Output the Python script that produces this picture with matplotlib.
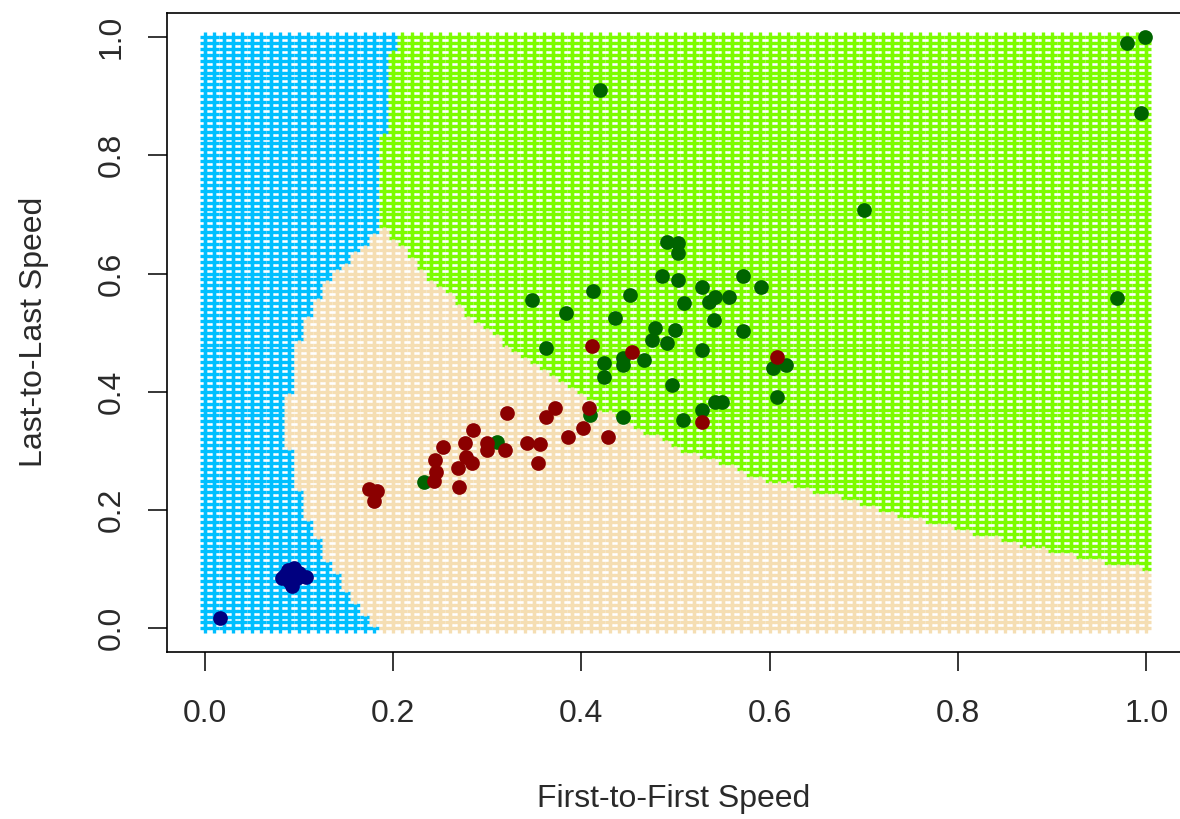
import numpy as np
import matplotlib
matplotlib.use("Agg")
import matplotlib.pyplot as plt

plt.rcParams['font.family'] = ['Liberation Sans', 'DejaVu Sans']

# observed points, one class per colour
green_x = [0.233, 0.310, 0.409, 0.444, 0.363, 0.424, 0.424, 0.444, 0.444, 0.467,
           0.475, 0.478, 0.491, 0.500, 0.496, 0.528, 0.541, 0.572, 0.508, 0.528,
           0.542, 0.549, 0.604, 0.617, 0.608, 0.384, 0.436, 0.348, 0.491, 0.503,
           0.503, 0.486, 0.503, 0.528, 0.572, 0.591, 0.509, 0.536, 0.542, 0.557,
           0.412, 0.452, 0.420, 0.700, 0.969, 0.980, 0.999, 0.994]
green_y = [0.247, 0.315, 0.360, 0.357, 0.474, 0.449, 0.425, 0.457, 0.445, 0.453,
           0.487, 0.508, 0.482, 0.504, 0.411, 0.470, 0.521, 0.503, 0.352, 0.369,
           0.382, 0.382, 0.440, 0.445, 0.391, 0.533, 0.525, 0.555, 0.653, 0.651,
           0.635, 0.596, 0.589, 0.577, 0.596, 0.577, 0.550, 0.552, 0.560, 0.560,
           0.570, 0.563, 0.910, 0.707, 0.558, 0.990, 1.000, 0.871]

red_x = [0.175, 0.183, 0.180, 0.244, 0.245, 0.246, 0.253, 0.270, 0.269, 0.276,
         0.278, 0.284, 0.285, 0.300, 0.300, 0.319, 0.321, 0.342, 0.356, 0.354,
         0.363, 0.372, 0.386, 0.402, 0.408, 0.428, 0.411, 0.454, 0.528, 0.608]
red_y = [0.236, 0.233, 0.215, 0.250, 0.284, 0.265, 0.306, 0.239, 0.272, 0.313,
         0.289, 0.279, 0.335, 0.313, 0.301, 0.301, 0.364, 0.313, 0.311, 0.279,
         0.357, 0.372, 0.323, 0.338, 0.372, 0.323, 0.477, 0.467, 0.349, 0.459]

navy_x = [0.016, 0.082, 0.088, 0.095, 0.100, 0.108, 0.093, 0.085, 0.090, 0.098]
navy_y = [0.017, 0.085, 0.098, 0.102, 0.093, 0.087, 0.072, 0.090, 0.080, 0.085]

# class boundaries
blue_edge_y = [0.0, 0.008, 0.064, 0.120, 0.178, 0.245, 0.306, 0.364, 0.420, 0.475,
               0.533, 0.589, 0.678, 0.724, 0.944, 1.0]
blue_edge_x = [0.183, 0.179, 0.151, 0.130, 0.112, 0.098, 0.090, 0.085, 0.094, 0.098,
               0.112, 0.131, 0.188, 0.186, 0.194, 0.205]
green_edge_x = [0.188, 0.210, 0.236, 0.264, 0.285, 0.313, 0.349, 0.385, 0.420, 0.455,
                0.491, 0.526, 0.561, 0.597, 0.632, 0.667, 0.703, 0.739, 0.774, 0.810,
                0.845, 0.880, 0.916, 0.951, 1.0]
green_edge_y = [0.678, 0.640, 0.594, 0.555, 0.521, 0.487, 0.448, 0.408, 0.369, 0.340,
                0.313, 0.288, 0.271, 0.249, 0.237, 0.222, 0.205, 0.188, 0.178, 0.162,
                0.149, 0.135, 0.124, 0.112, 0.098]

fig = plt.figure(figsize=(11.8, 8.19), dpi=100)
ax = fig.add_axes([167/1180, (819-652)/819, (1184-167)/1180, (652-13.4)/819])

# grid of predictions
g = np.round(np.arange(0, 101) / 100, 2)
gx, gy = np.meshgrid(g, g)
gx = gx.ravel()
gy = gy.ravel()
is_blue = gx < np.interp(gy, blue_edge_y, blue_edge_x)
is_green = (~is_blue) & (gy > np.interp(gx, green_edge_x, green_edge_y))
is_wheat = ~(is_blue | is_green)

for mask, col in [(is_blue, '#00BFFF'), (is_green, '#7CFC00'), (is_wheat, '#F5DEB3')]:
    ax.scatter(gx[mask], gy[mask], marker='+', s=52, linewidths=2.4, color=col, zorder=1)

ax.scatter(navy_x, navy_y, s=112, color='#000080', linewidths=0, zorder=3)
ax.scatter(green_x, green_y, s=112, color='#006400', linewidths=0, zorder=3)
ax.scatter(red_x, red_y, s=112, color='#8B0000', linewidths=0, zorder=4)

ax.set_xlim(-0.04, 1.04)
ax.set_ylim(-0.04, 1.04)
ticks = [0.0, 0.2, 0.4, 0.6, 0.8, 1.0]
ax.set_xticks(ticks)
ax.set_yticks(ticks)
ax.set_xticklabels([f"{t:.1f}" for t in ticks])
ax.set_yticklabels([f"{t:.1f}" for t in ticks], rotation=90, va='center')
ax.tick_params(direction='out', length=14, width=1.1, labelsize=23,
               labelcolor='#2a2a2a')
ax.tick_params(axis='x', pad=20)
ax.tick_params(axis='y', pad=15)
for s in ax.spines.values():
    s.set_linewidth(1.2)

fig.text(674/1180, 1 - 807/819, "First-to-First Speed", fontsize=23,
         ha='center', va='baseline', color='#2a2a2a')
fig.text(42/1180, 1 - 332/819, "Last-to-Last Speed", fontsize=23, rotation=90,
         rotation_mode='anchor', ha='center', va='baseline', color='#2a2a2a')

fig.savefig("out.png", dpi=100)
